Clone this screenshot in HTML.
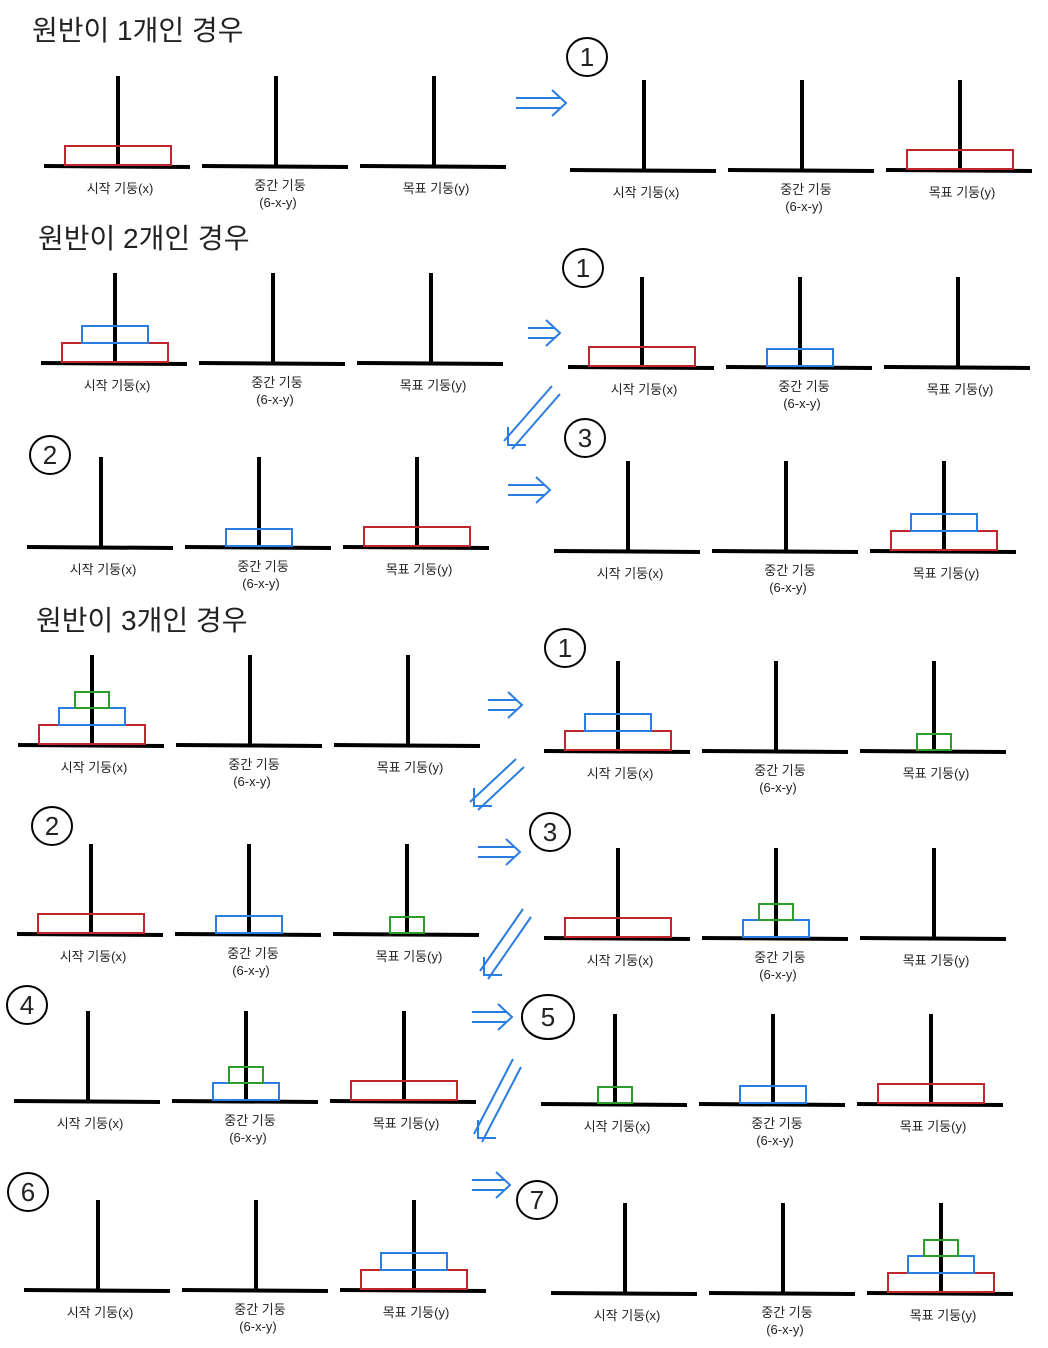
<!DOCTYPE html>
<html><head><meta charset="utf-8">
<style>
html,body{margin:0;padding:0;background:#fff;}
svg{display:block;}
text{font-family:"Liberation Sans","Noto Sans CJK KR",sans-serif;fill:#222;}
</style></head>
<body>
<svg id="c" width="1048" height="1348" viewBox="0 0 1048 1348" xmlns="http://www.w3.org/2000/svg">
<text x="32" y="40" font-size="28">원반이 1개인 경우</text>
<text x="38" y="248" font-size="28">원반이 2개인 경우</text>
<text x="36" y="630" font-size="28">원반이 3개인 경우</text>
</svg>
<script>
// panel states: disks per peg (bottom to top), size codes: 3=large,2=medium,1=small
const panelStates = [
  [[3],[],[]],
  [[],[],[3]],
  [[3,2],[],[]],
  [[3],[2],[]],
  [[],[2],[3]],
  [[],[],[3,2]],
  [[3,2,1],[],[]],
  [[3,2],[],[1]],
  [[3],[2],[1]],
  [[3],[2,1],[]],
  [[],[2,1],[3]],
  [[1],[2],[3]],
  [[],[],[3,2]],
  [[],[],[3,2,1]]
];
const stepNumbers = ["","1","","1","2","3","","1","2","3","4","5","6","7"];
// layout (not data): first peg x, base y
const panelPos = [[118,166],[644,170],[115,363],[642,367],[101,547],[628,551],[92,745],[618,751],[91,934],[618,938],[88,1101],[615,1104],[98,1290],[625,1293]];
const circlePos = {1:[587,57],3:[583,268],4:[50,455],5:[585,438],7:[565,648],8:[52,826],9:[550,832],10:[27,1005],11:[548,1017],12:[28,1192],13:[537,1200]};
const diskW = {1:34,2:66,3:106}, diskH = {1:16,2:17,3:19};
const diskColor = {1:"#2a9d2a",2:"#2a7de1",3:"#c0272d"};
const svg = document.getElementById('c');
const NS = "http://www.w3.org/2000/svg";
function mk(tag, attrs){const e=document.createElementNS(NS,tag);for(const k in attrs)e.setAttribute(k,attrs[k]);svg.appendChild(e);return e;}
const pegNames=["start","middle","target"];
panelStates.forEach((st,pi)=>{
  const [x0,by]=panelPos[pi];
  for(let p=0;p<3;p++){
    const px=x0+158*p;
    const base=mk('line',{x1:px-74,y1:by,x2:px+72,y2:by+1,stroke:"#000","stroke-width":4});
    
    
    const peg=mk('line',{x1:px,y1:by-90,x2:px,y2:by,stroke:"#000","stroke-width":4});
    
    
    let y=by-1;
    st[p].forEach(s=>{
      const w=diskW[s],h=diskH[s];
      y-=h;
      const r=mk('rect',{x:px-w/2,y:y,width:w,height:h,fill:"none",stroke:diskColor[s],"stroke-width":2});
      
      
    });
    if(p===1){
      const t1=mk('text',{x:px+4,y:by+24,"font-size":13,"text-anchor":"middle"});t1.textContent="중간 기둥";
      
      
      const t2=mk('text',{x:px+2,y:by+41,"font-size":13,"text-anchor":"middle"});t2.textContent="(6-x-y)";
      
      
    } else {
      const t=mk('text',{x:px+2,y:by+27,"font-size":13,"text-anchor":"middle"});
      t.textContent=p===0?"시작 기둥(x)":"목표 기둥(y)";
      
      
    }
  }
  if(circlePos[pi]){
    const [cx,cy]=circlePos[pi];
    const c=mk('ellipse',{cx:cx,cy:cy,rx:pi===11?26:20,ry:pi===11?22:19,fill:"none",stroke:"#000","stroke-width":2});
    
    
    const n=mk('text',{x:cx,y:cy+9,"font-size":26,"text-anchor":"middle"});
    n.textContent=stepNumbers[pi];
    
    
  }
});
const rightArrows=[[516,103,566],[528,333,560],[508,490,550],[488,705,522],[478,852,520],[472,1017,512],[472,1185,510]];
rightArrows.forEach(([x1,y,x2])=>{
  [-5,5].forEach(d=>{const l=mk('line',{x1:x1,y1:y+d,x2:x2-6,y2:y+d,stroke:"#2a7de1","stroke-width":2});
    
    });
  const h=mk('path',{d:`M${x2-14},${y-13} L${x2},${y} L${x2-14},${y+13}`,fill:"none",stroke:"#2a7de1","stroke-width":2});
  
  
});
const diagArrows=[[556,390,508,445],[520,763,474,806],[527,913,484,975],[517,1063,478,1138]];
diagArrows.forEach(([x1,y1,x2,y2])=>{
  [-4,4].forEach(d=>{const l=mk('line',{x1:x1+d,y1:y1+d,x2:x2+d,y2:y2+d,stroke:"#2a7de1","stroke-width":2});
    
    });
  const h=mk('path',{d:`M${x2},${y2-18} L${x2},${y2} L${x2+18},${y2}`,fill:"none",stroke:"#2a7de1","stroke-width":2});
  
  
});
</script>
</body></html>
